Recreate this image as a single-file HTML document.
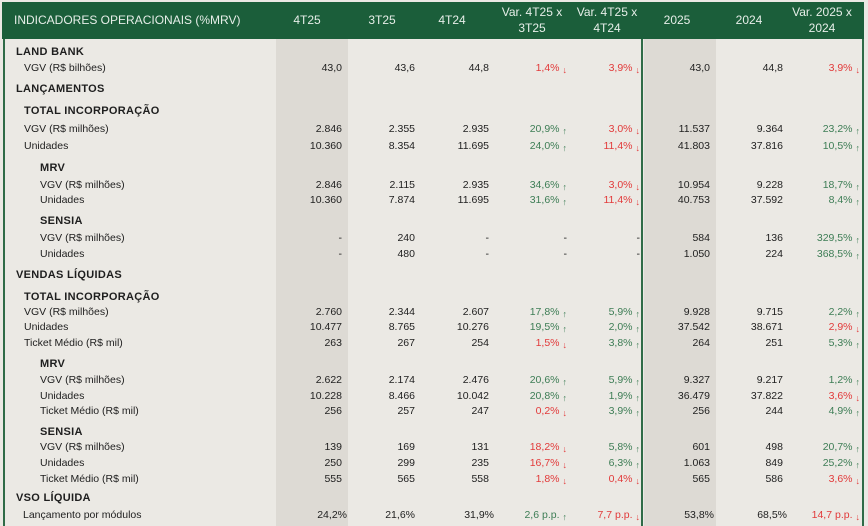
<!DOCTYPE html>
<html><head><meta charset="utf-8"><style>
body{margin:0;width:868px;height:526px;overflow:hidden;background:#ebe9e4;font-family:"Liberation Sans",sans-serif;position:relative}
.hd{position:absolute;left:2px;top:2px;width:862px;height:37px;background:#1b5e3a;color:#e6eee8;font-size:12px}
.hd div{position:absolute;text-align:center;line-height:16px}
.sh{position:absolute;top:39px;height:487px;background:#dddad4}
.vl{position:absolute;top:39px;height:487px;width:2px;background:#2f6b47}
.r{position:absolute;left:0;width:868px;height:16px;line-height:16px;font-size:10.5px;color:#1e1e1e}
.r span{position:absolute;top:0;text-align:right;white-space:nowrap}
.l{left:0;text-align:left!important}
.b{font-weight:bold;font-size:11px;letter-spacing:.3px}
.c1{left:260px;width:82px}.c2{left:335px;width:80px}.c3{left:408px;width:81px}
.c4{left:484px;width:83px}.c5{left:560px;width:80px}.c6{left:630px;width:80px}
.c7{left:703px;width:80px}.c8{left:776px;width:84px}
.g{color:#3d7d55}.d{color:#e23a3a}
i{font-style:normal;font-size:9px;margin-left:3px;position:relative;top:2px}
</style></head><body>
<div class="sh" style="left:276px;width:72px"></div>
<div class="sh" style="left:644px;width:72px"></div>
<div class="vl" style="left:3px"></div>
<div class="vl" style="left:641px"></div>
<div class="vl" style="left:862px"></div>
<div class="hd">
<div style="left:12px;top:10px;text-align:left">INDICADORES OPERACIONAIS (%MRV)</div>
<div style="left:270px;width:70px;top:10px">4T25</div>
<div style="left:345px;width:70px;top:10px">3T25</div>
<div style="left:415px;width:70px;top:10px">4T24</div>
<div style="left:490px;width:80px;top:2px">Var. 4T25 x<br>3T25</div>
<div style="left:565px;width:80px;top:2px">Var. 4T25 x<br>4T24</div>
<div style="left:640px;width:70px;top:10px">2025</div>
<div style="left:712px;width:70px;top:10px">2024</div>
<div style="left:780px;width:80px;top:2px">Var. 2025 x<br>2024</div>
</div>

<div class="r" style="top:44px"><span class="l b" style="left:16px">LAND BANK</span></div>
<div class="r" style="top:60px"><span class="l" style="left:24px">VGV (R$ bilhões)</span><span class="c1">43,0</span><span class="c2">43,6</span><span class="c3">44,8</span><span class="c4 d">1,4%<i>↓</i></span><span class="c5 d">3,9%<i>↓</i></span><span class="c6">43,0</span><span class="c7">44,8</span><span class="c8 d">3,9%<i>↓</i></span></div>
<div class="r" style="top:81px"><span class="l b" style="left:16px">LANÇAMENTOS</span></div>
<div class="r" style="top:103px"><span class="l b" style="left:24px">TOTAL INCORPORAÇÃO</span></div>
<div class="r" style="top:121px"><span class="l" style="left:24px">VGV (R$ milhões)</span><span class="c1">2.846</span><span class="c2">2.355</span><span class="c3">2.935</span><span class="c4 g">20,9%<i>↑</i></span><span class="c5 d">3,0%<i>↓</i></span><span class="c6">11.537</span><span class="c7">9.364</span><span class="c8 g">23,2%<i>↑</i></span></div>
<div class="r" style="top:138px"><span class="l" style="left:24px">Unidades</span><span class="c1">10.360</span><span class="c2">8.354</span><span class="c3">11.695</span><span class="c4 g">24,0%<i>↑</i></span><span class="c5 d">11,4%<i>↓</i></span><span class="c6">41.803</span><span class="c7">37.816</span><span class="c8 g">10,5%<i>↑</i></span></div>
<div class="r" style="top:160px"><span class="l b" style="left:40px">MRV</span></div>
<div class="r" style="top:177px"><span class="l" style="left:40px">VGV (R$ milhões)</span><span class="c1">2.846</span><span class="c2">2.115</span><span class="c3">2.935</span><span class="c4 g">34,6%<i>↑</i></span><span class="c5 d">3,0%<i>↓</i></span><span class="c6">10.954</span><span class="c7">9.228</span><span class="c8 g">18,7%<i>↑</i></span></div>
<div class="r" style="top:192px"><span class="l" style="left:40px">Unidades</span><span class="c1">10.360</span><span class="c2">7.874</span><span class="c3">11.695</span><span class="c4 g">31,6%<i>↑</i></span><span class="c5 d">11,4%<i>↓</i></span><span class="c6">40.753</span><span class="c7">37.592</span><span class="c8 g">8,4%<i>↑</i></span></div>
<div class="r" style="top:213px"><span class="l b" style="left:40px">SENSIA</span></div>
<div class="r" style="top:230px"><span class="l" style="left:40px">VGV (R$ milhões)</span><span class="c1" style="padding-right:14px">-</span><span class="c2">240</span><span class="c3" style="padding-right:15px">-</span><span class="c4">-</span><span class="c5">-</span><span class="c6">584</span><span class="c7">136</span><span class="c8 g">329,5%<i>↑</i></span></div>
<div class="r" style="top:246px"><span class="l" style="left:40px">Unidades</span><span class="c1" style="padding-right:14px">-</span><span class="c2">480</span><span class="c3" style="padding-right:15px">-</span><span class="c4">-</span><span class="c5">-</span><span class="c6">1.050</span><span class="c7">224</span><span class="c8 g">368,5%<i>↑</i></span></div>
<div class="r" style="top:267px"><span class="l b" style="left:16px">VENDAS LÍQUIDAS</span></div>
<div class="r" style="top:289px"><span class="l b" style="left:24px">TOTAL INCORPORAÇÃO</span></div>
<div class="r" style="top:304px"><span class="l" style="left:24px">VGV (R$ milhões)</span><span class="c1">2.760</span><span class="c2">2.344</span><span class="c3">2.607</span><span class="c4 g">17,8%<i>↑</i></span><span class="c5 g">5,9%<i>↑</i></span><span class="c6">9.928</span><span class="c7">9.715</span><span class="c8 g">2,2%<i>↑</i></span></div>
<div class="r" style="top:319px"><span class="l" style="left:24px">Unidades</span><span class="c1">10.477</span><span class="c2">8.765</span><span class="c3">10.276</span><span class="c4 g">19,5%<i>↑</i></span><span class="c5 g">2,0%<i>↑</i></span><span class="c6">37.542</span><span class="c7">38.671</span><span class="c8 d">2,9%<i>↓</i></span></div>
<div class="r" style="top:335px"><span class="l" style="left:24px">Ticket Médio (R$ mil)</span><span class="c1">263</span><span class="c2">267</span><span class="c3">254</span><span class="c4 d">1,5%<i>↓</i></span><span class="c5 g">3,8%<i>↑</i></span><span class="c6">264</span><span class="c7">251</span><span class="c8 g">5,3%<i>↑</i></span></div>
<div class="r" style="top:356px"><span class="l b" style="left:40px">MRV</span></div>
<div class="r" style="top:372px"><span class="l" style="left:40px">VGV (R$ milhões)</span><span class="c1">2.622</span><span class="c2">2.174</span><span class="c3">2.476</span><span class="c4 g">20,6%<i>↑</i></span><span class="c5 g">5,9%<i>↑</i></span><span class="c6">9.327</span><span class="c7">9.217</span><span class="c8 g">1,2%<i>↑</i></span></div>
<div class="r" style="top:388px"><span class="l" style="left:40px">Unidades</span><span class="c1">10.228</span><span class="c2">8.466</span><span class="c3">10.042</span><span class="c4 g">20,8%<i>↑</i></span><span class="c5 g">1,9%<i>↑</i></span><span class="c6">36.479</span><span class="c7">37.822</span><span class="c8 d">3,6%<i>↓</i></span></div>
<div class="r" style="top:403px"><span class="l" style="left:40px">Ticket Médio (R$ mil)</span><span class="c1">256</span><span class="c2">257</span><span class="c3">247</span><span class="c4 d">0,2%<i>↓</i></span><span class="c5 g">3,9%<i>↑</i></span><span class="c6">256</span><span class="c7">244</span><span class="c8 g">4,9%<i>↑</i></span></div>
<div class="r" style="top:424px"><span class="l b" style="left:40px">SENSIA</span></div>
<div class="r" style="top:439px"><span class="l" style="left:40px">VGV (R$ milhões)</span><span class="c1">139</span><span class="c2">169</span><span class="c3">131</span><span class="c4 d">18,2%<i>↓</i></span><span class="c5 g">5,8%<i>↑</i></span><span class="c6">601</span><span class="c7">498</span><span class="c8 g">20,7%<i>↑</i></span></div>
<div class="r" style="top:455px"><span class="l" style="left:40px">Unidades</span><span class="c1">250</span><span class="c2">299</span><span class="c3">235</span><span class="c4 d">16,7%<i>↓</i></span><span class="c5 g">6,3%<i>↑</i></span><span class="c6">1.063</span><span class="c7">849</span><span class="c8 g">25,2%<i>↑</i></span></div>
<div class="r" style="top:471px"><span class="l" style="left:40px">Ticket Médio (R$ mil)</span><span class="c1">555</span><span class="c2">565</span><span class="c3">558</span><span class="c4 d">1,8%<i>↓</i></span><span class="c5 d">0,4%<i>↓</i></span><span class="c6">565</span><span class="c7">586</span><span class="c8 d">3,6%<i>↓</i></span></div>
<div class="r" style="top:490px"><span class="l b" style="left:16px">VSO LÍQUIDA</span></div>
<div class="r" style="top:507px"><span class="l" style="left:23px">Lançamento por módulos</span><span class="c1" style="left:265px">24,2%</span><span class="c2">21,6%</span><span class="c3" style="left:413px">31,9%</span><span class="c4 g">2,6 p.p.<i>↑</i></span><span class="c5 d">7,7 p.p.<i>↓</i></span><span class="c6" style="left:634px">53,8%</span><span class="c7" style="left:707px">68,5%</span><span class="c8 d">14,7 p.p.<i>↓</i></span></div>
</body></html>
